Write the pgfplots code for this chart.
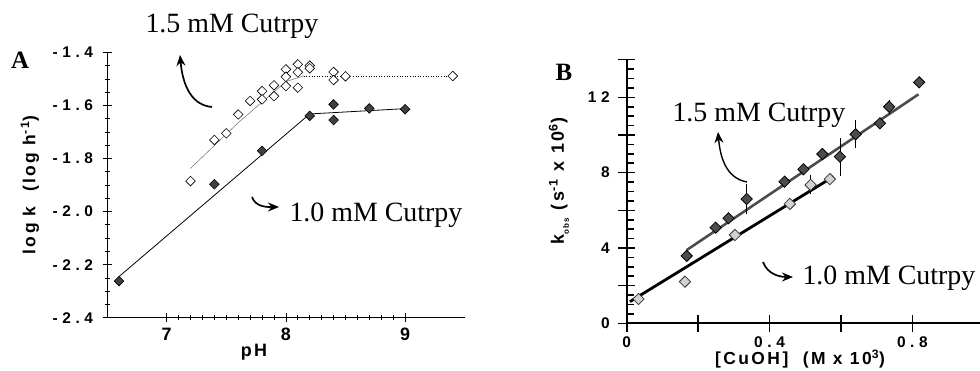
\documentclass[border=0pt]{standalone}
\usepackage{fontspec}
\setmainfont{Liberation Serif}
\newfontfamily\hel[LetterSpace=30]{Liberation Sans}
\newfontfamily\helB[LetterSpace=14]{Liberation Sans}
\usepackage{pgfplots}
\pgfplotsset{compat=1.18}
\usetikzlibrary{arrows.meta}

\begin{document}
\begin{tikzpicture}
\useasboundingbox (0,0) rectangle (980bp,371bp);

% ---------------- Panel A ----------------
\begin{axis}[
  at={(107.1bp,53.3bp)}, anchor=south west, scale only axis,
  width=357.6bp, height=265.3bp,
  xmin=6.5, xmax=9.5, ymin=-2.4, ymax=-1.4,
  axis lines=left, axis line style={-, line width=0.9pt},
  clip=false,
  tick align=center, major tick length=9bp, minor tick length=5bp,
  every tick/.append style={black, line width=0.7pt},
  xtick={7,8,9}, xticklabels={7,8,9}, minor x tick num=9,
  ytick={-2.4,-2.2,-2.0,-1.8,-1.6,-1.4},
  yticklabels={-2.4,-2.2,-2.0,-1.8,-1.6,-1.4},
  minor y tick num=3,
  xticklabel style={font=\hel\bfseries\fontsize{18}{18}\selectfont, yshift=-2bp},
  yticklabel style={font=\hel\bfseries\fontsize{15.5}{15.5}\selectfont, xshift=-6bp},
]
\addplot[black, line width=0.8pt] coordinates {(6.6,-2.245) (8.2,-1.632) (9.0,-1.612)};
\addplot[gray, line width=0.6pt] coordinates {(7.2,-1.837) (7.6,-1.665) (8.0,-1.51) (8.15,-1.489)};
\addplot[black, dotted, line width=0.6pt] coordinates {(8.15,-1.489) (9.4,-1.489)};
\addplot[only marks, mark=square*, mark size=3.4bp,
  mark options={rotate=45, fill=white, draw=black, line width=0.6pt}] coordinates {
  (7.2,-1.885) (7.4,-1.730) (7.5,-1.705) (7.6,-1.634) (7.7,-1.583)
  (7.8,-1.546) (7.8,-1.577) (7.9,-1.524) (7.9,-1.565)
  (8.0,-1.464) (8.0,-1.492) (8.0,-1.527)
  (8.1,-1.445) (8.1,-1.475) (8.1,-1.533)
  (8.2,-1.450) (8.2,-1.460) (8.4,-1.474) (8.4,-1.504) (8.5,-1.490) (9.4,-1.489)};
\addplot[only marks, mark=square*, mark size=3.4bp,
  mark options={rotate=45, fill=gray!50!black, draw=black, line width=0.6pt}] coordinates {
  (6.6,-2.262) (7.4,-1.897) (7.8,-1.771) (8.2,-1.639) (8.4,-1.596) (8.4,-1.655) (8.7,-1.611) (9.0,-1.614)};
\end{axis}

% ---------------- Panel B ----------------
\begin{axis}[
  at={(626.7bp,47.7bp)}, anchor=south west, scale only axis,
  width=353.2bp, height=263.6bp,
  xmin=0, xmax=0.989, ymin=0, ymax=14,
  axis lines=left, axis line style={-, line width=2pt},
  clip=false,
  tick align=center, major tick length=17bp, minor tick length=7bp,
  every tick/.append style={black, line width=1.6pt},
  xtick={0,0.2,0.4,0.6,0.8}, xticklabels={0,,0.4,,0.8},
  ytick={0,2,4,6,8,10,12,14}, yticklabels={0,,4,,8,,12,},
  minor y tick num=3, minor y tick style={xshift=3.5bp},
  xticklabel style={font=\hel\bfseries\fontsize{15.5}{15.5}\selectfont, yshift=-1bp},
  yticklabel style={font=\hel\bfseries\fontsize{15.5}{15.5}\selectfont, xshift=-5bp},
]
\addplot[black, line width=2.8pt] coordinates {(0.009,1.15) (0.579,7.79)};
\addplot[gray!60!black, line width=2.6pt] coordinates {(0.168,3.89) (0.817,12.16)};
\addplot[only marks, mark=square*, mark size=4bp,
  mark options={rotate=45, fill=gray!35, draw=gray!40!black, line width=0.8pt},
  error bars/.cd, y dir=both, y explicit,
  error bar style={line width=0.8pt, black},
  error mark options={mark size=3bp, line width=0.8pt, black}]
  table[x=x, y=y, y error=e] {
x y e
0.033 1.29 0
0.163 2.21 0
0.303 4.69 0
0.457 6.34 0
0.515 7.35 0.35
0.569 7.66 0
};
\addplot[only marks, mark=square*, mark size=4bp,
  mark options={rotate=45, fill=gray!60!black, draw=black, line width=0.8pt},
  error bars/.cd, y dir=both, y explicit,
  error bar style={line width=0.8pt, black},
  error mark options={mark size=3bp, line width=0.8pt, black}]
  table[x=x, y=y, y error=e] {
x y e
0.168 3.58 0
0.249 5.08 0
0.285 5.58 0
0.336 6.60 0.65
0.442 7.52 0
0.495 8.18 0
0.548 8.99 0
0.597 8.85 0.85
0.641 10.04 0.58
0.709 10.62 0
0.735 11.50 0.2
0.819 12.80 0
};
\end{axis}

% ---------------- texts ----------------
\node[font=\bfseries\fontsize{25}{25}\selectfont] at (20bp,311bp) {A};
\node[font=\bfseries\fontsize{25}{25}\selectfont] at (564bp,299bp) {B};

\node[anchor=base west, font=\fontsize{28}{30}\selectfont] at (142bp,338bp) {1.5 mM Cutrpy};
\node[anchor=base west, font=\fontsize{28}{30}\selectfont] at (286bp,149bp) {1.0 mM Cutrpy};
\node[anchor=base west, font=\fontsize{28}{30}\selectfont] at (669bp,249bp) {1.5 mM Cutrpy};
\node[anchor=base west, font=\fontsize{28}{30}\selectfont] at (799bp,86bp) {1.0 mM Cutrpy};

\node[font=\helB\bfseries\fontsize{18}{18}\selectfont] at (254bp,19bp) {pH};
\node[rotate=90, font=\helB\bfseries\fontsize{17.5}{17.5}\selectfont] at (30bp,186bp)
  {log k \ (log h\textsuperscript{-1})};
\node[font=\helB\bfseries\fontsize{17.5}{17.5}\selectfont] at (800bp,12bp)
  {[CuOH] \ (M x 10\textsuperscript{3})};
\node[rotate=90, font=\helB\bfseries\fontsize{18}{18}\selectfont] at (559bp,190bp)
  {k\raisebox{-5bp}{\fontsize{8}{8}\selectfont obs} (s\textsuperscript{-1} x 10\textsuperscript{6})};

% ---------------- arrows ----------------
\draw[-{Stealth[length=11bp,width=9bp]}, line width=1.7pt]
  (212bp,264bp) to[out=175,in=-85] (180bp,316bp);
\draw[-{Stealth[length=11bp,width=9bp]}, line width=1.7pt]
  (252bp,174bp) to[out=-70,in=180] (279bp,164bp);
\draw[-{Stealth[length=11bp,width=9bp]}, line width=1.4pt]
  (747bp,189bp) to[out=170,in=-85] (718bp,239bp);
\draw[-{Stealth[length=11bp,width=9bp]}, line width=1.7pt]
  (763bp,109bp) to[out=-70,in=180] (793bp,94bp);
\end{tikzpicture}
\end{document}
